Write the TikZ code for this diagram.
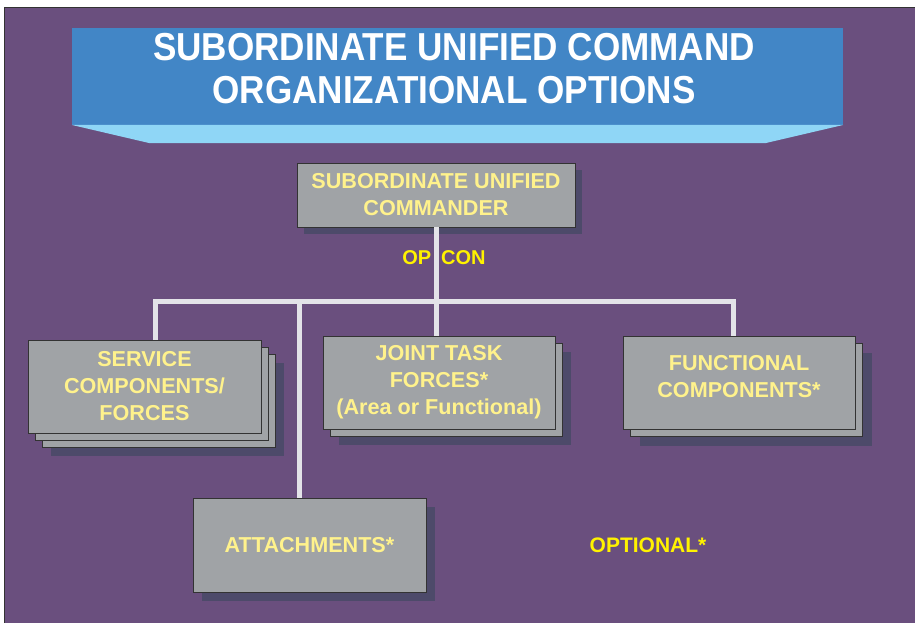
\documentclass[tikz,border=0pt]{standalone}
\usepackage{fontspec}
\setmainfont{Liberation Sans}
\newfontfamily\titlefont[FakeStretch=0.9]{Liberation Sans}
\usetikzlibrary{shadows}
\definecolor{bgpurple}{HTML}{6A4F7E}
\definecolor{bannerblue}{HTML}{4286C6}
\definecolor{bannerlight}{HTML}{8FD6F6}
\definecolor{boxgray}{HTML}{A0A3A6}
\definecolor{shadowgray}{HTML}{4D4A6A}
\definecolor{boxtext}{HTML}{FFF28C}
\definecolor{busline}{HTML}{E3E3E8}

\begin{document}
\begin{tikzpicture}[
        x=1pt,
        y=-1pt,
        orgbox/.style={
            draw=black!80,
            fill=boxgray,
            line width=0.8pt,
            inner sep=0pt,
            align=center,
            text=boxtext,
            font=\fontsize{21.6}{27}\selectfont\bfseries
        },
        solidshadow/.style={
            general shadow={fill=shadowgray,
                shadow xshift=#1pt, shadow yshift=-#1pt}
        },
        stackcopy/.style={
            copy shadow={shadow xshift=#1pt, shadow yshift=-#1pt}
        },
        bus/.style={
            draw=busline,
            line width=5pt
        },
        yellowlabel/.style={
            text=yellow,
            font=\fontsize{20}{24}\selectfont\bfseries
        }
    ]
        \useasboundingbox (0,0) rectangle (915,623);

        % Background and title banner
        \fill[white] (0,0) rectangle (915,623);
        \draw[fill=bgpurple, draw=black!80, line width=0.8pt]
            (4,7) rectangle (916,624);

        \fill[bannerblue] (72,28) rectangle (843,125);
        \fill[bannerlight]
            (72,125) -- (843,125) -- (766,143) -- (149,143) -- cycle;

        \node[text=white, align=center,
              font=\titlefont\fontsize{39}{43}\selectfont\bfseries]
            (title) at (454,69)
            {SUBORDINATE UNIFIED COMMAND\\ORGANIZATIONAL OPTIONS};

        % Commander box
        \node[orgbox, solidshadow=7,
              minimum width=278pt, minimum height=64pt]
            (cmdr) at (436,195)
            {SUBORDINATE UNIFIED\\COMMANDER};

        \node[yellowlabel] (opcon) at (444,258)
            {OP\hspace{10pt}CON};

        % Second row: stacked boxes
        \node[orgbox, solidshadow=23, stackcopy=14, stackcopy=7,
              minimum width=233pt, minimum height=93pt]
            (svc) at (144.5,386.5)
            {SERVICE\\COMPONENTS/\\FORCES};

        \node[orgbox, solidshadow=16, stackcopy=7,
              minimum width=232pt, minimum height=93pt]
            (jtf) at (439,382.5)
            {JOINT TASK\\FORCES*\\(Area or Functional)};

        \node[orgbox, solidshadow=17, stackcopy=7,
              minimum width=232pt, minimum height=93pt]
            (fnc) at (739,382.5)
            {FUNCTIONAL\\COMPONENTS*\\[-15pt]};

        % Bottom row
        \node[orgbox, solidshadow=9,
              minimum width=233pt, minimum height=94pt]
            (att) at (309.5,545)
            {ATTACHMENTS*};

        \node[yellowlabel, font=\fontsize{21}{25}\selectfont\bfseries]
            (optional) at (648,545) {OPTIONAL*};

        % Connectors
        \coordinate (busL) at (155,301);
        \coordinate (busA) at (299,301);
        \coordinate (busR) at (733,301);

        \draw[bus] (svc.north -| busL) -- (busL) -- (busR)
            -- (fnc.north -| busR);
        \draw[bus] (cmdr.south) -- (cmdr.south |- jtf.north);
        \draw[bus] (busA) -- (busA |- att.north);
    \end{tikzpicture}
\end{document}
